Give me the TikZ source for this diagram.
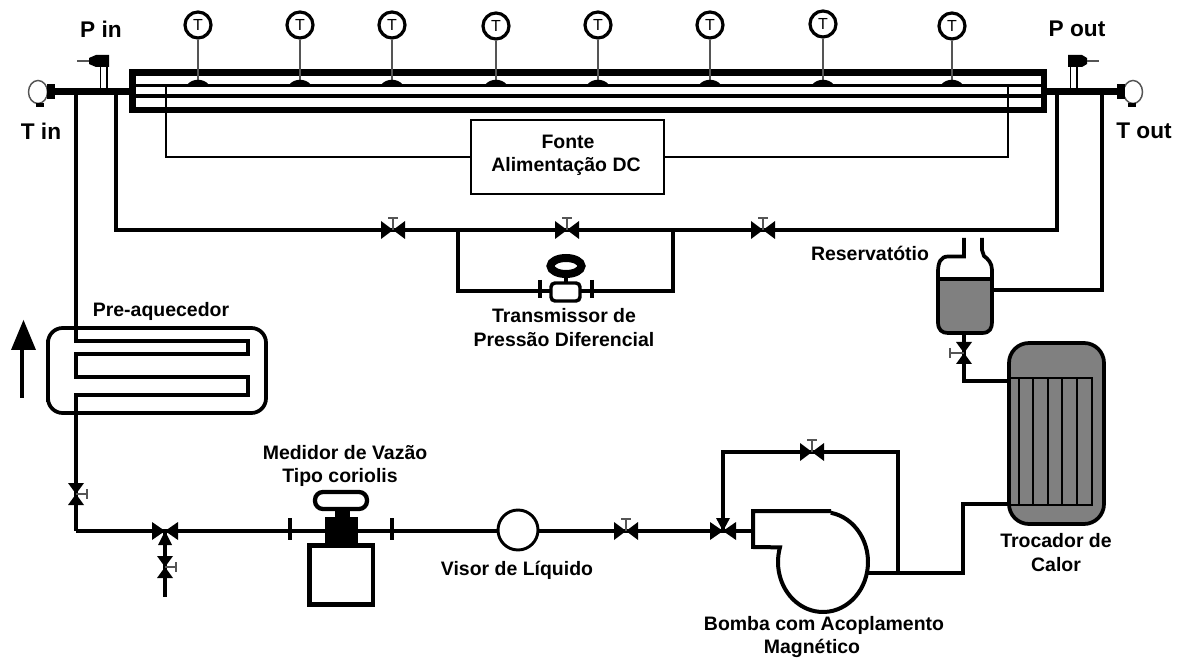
\documentclass[tikz,border=0pt]{standalone}
\usepackage{fontspec}
\setmainfont{Liberation Sans}
\usetikzlibrary{arrows.meta,positioning,calc}
\definecolor{fillgray}{HTML}{808080}
\definecolor{stemgray}{HTML}{555555}
\tikzset{
  hvalve/.pic={
    \fill (-12,-9) -- (0,0) -- (-12,9) -- cycle;
    \fill (12,-9) -- (0,0) -- (12,9) -- cycle;
    \draw[stem] (0,0) -- (0,-12) (-5,-12) -- (5,-12);
  },
  vvalve/.pic={
    \fill (-8,-11) -- (0,0) -- (8,-11) -- cycle;
    \fill (-8,11) -- (0,0) -- (8,11) -- cycle;
    \draw[stem] (0,0) -- (11,0) (11,-5) -- (11,5);
  },
  vvalvel/.pic={
    \fill (-8,-11) -- (0,0) -- (8,-11) -- cycle;
    \fill (-8,11) -- (0,0) -- (8,11) -- cycle;
    \draw[stem] (0,0) -- (-14,0) (-14,-5) -- (-14,5);
  },
}
\begin{document}
\begin{tikzpicture}[
    x=0.75pt,
    y=-0.75pt,
    pipe/.style={line width=3pt},
    thickpipe/.style={line width=5pt},
    wall/.style={line width=5pt},
    vessel/.style={line width=2.8pt, rounded corners=11pt},
    wire/.style={line width=1.1pt},
    stem/.style={line width=0.9pt, stemgray},
    sensor/.style={circle, draw, line width=2.4pt, minimum size=19.5pt, inner sep=0pt, fill=white, font=\fontsize{12}{12}\selectfont},
    label/.style={font=\fontsize{14.6}{14.6}\selectfont\bfseries, inner sep=0pt, text=black},
    biglabel/.style={font=\fontsize{17}{17}\selectfont\bfseries, inner sep=0pt, text=black}
]
\useasboundingbox (0,0) rectangle (1186,659);
\fill[white] (0,0) rectangle (1186,659);

% Test section
\draw[wall] (132.5,72.5) rectangle (1044,110);
\draw[line width=2.4pt] (132,85.5) -- (1044,85.5);
\draw[line width=2.4pt] (132,96) -- (1044,96);
\foreach \x in {132,1008} {
  \fill (\x,84) rectangle (\x+34,87.5);
  \fill (\x,94.5) rectangle (\x+34,98);
}

% Thermocouples
\foreach \i/\x/\y in {1/198/25,2/300/25,3/392/25,4/496/26,5/598/25,6/710/25,7/823/24,8/952/26} {
  \node[sensor] (T\i) at (\x,\y) {T};
  \coordinate (D\i) at (\x,80);
  \draw[stem, line width=1.1pt] (T\i) -- (D\i);
  \fill (\x-11,85) .. controls (\x-6,78) and (\x+6,78) .. (\x+11,85) -- cycle;
}

% Power supply
\node[draw, wire, minimum width=144.75pt, minimum height=55.5pt, inner sep=0pt] (fonte) at (567.5,157) {};
\node[label] (fontetxt) at (568,142) {Fonte};
\node[label] (alimtxt) at (566,166) {Alimentação DC};
\coordinate (wireL) at (166,86);
\coordinate (wireR) at (1008,86);
\draw[wire] (wireL) |- (fonte.west);
\draw[wire] (wireR) |- (fonte.east);

% Inlet and outlet
\coordinate (inL) at (55,91.5);
\coordinate (inR) at (132,91.5);
\coordinate (outL) at (1044,91.5);
\coordinate (outR) at (1117,91.5);
\draw[thickpipe] (inL) -- (inR);
\draw[thickpipe] (outL) -- (outR);
\draw[line width=1.1pt, stemgray] (38,92) ellipse (9.5 and 11.5);
\fill (47,84) rectangle (55,99);
\fill (36,103) rectangle (44,107);
\draw[line width=1.1pt, stemgray] (1133,92) ellipse (9.5 and 11.5);
\fill (1117,84) rectangle (1125,99);
\fill (1128,103) rectangle (1136,107);

% Pressure taps
\fill (89,58) -- (96,55) -- (109,55) -- (109,67) -- (96,67) -- (89,64) -- cycle;
\draw[stem] (77,61) -- (89,61);
\draw[line width=1pt] (100.5,67) -- (100.5,88) (107,67) -- (107,88);
\fill (1068,55) -- (1082,55) -- (1087,58) -- (1087,64) -- (1082,67) -- (1068,67) -- cycle;
\draw[stem] (1087,61) -- (1099,61);
\draw[line width=1pt] (1070.5,67) -- (1070.5,88) (1077,67) -- (1077,88);

% Bypass line
\coordinate (byL) at (116,230);
\coordinate (byR) at (1057,230);
\coordinate (V1) at (393,230);
\coordinate (V2) at (567,230);
\coordinate (V3) at (763,230);
\draw[pipe] (116,92) -- (byL) -- (byR) -- (1057,92);
\foreach \v in {V1,V2,V3} \pic at (\v) {hvalve};

% Differential transmitter
\coordinate (dpL) at (458,230);
\coordinate (dpR) at (673,230);
\draw[pipe] (dpL) |- (540,291) (592,291) -| (dpR);
\draw[pipe] (540,280) -- (540,298) (592,280) -- (592,298);
\draw[pipe] (540,291) -- (592,291);
\draw[line width=2.6pt, rounded corners=3pt, fill=white] (551,283) rectangle (580,301);
\draw[line width=2.8pt] (566,276) -- (566,283);
\draw[line width=6pt, fill=white] (566,266) ellipse (15.5 and 8);
\node[label] (dptxt1) at (564,316) {Transmissor de};
\node[label] (dptxt2) at (564,340) {Pressão Diferencial};

% Reservoir
\fill[fillgray] (938,279) -- (992,279) -- (992,322) .. controls (992,328) and (990,333) .. (982,333) -- (948,333) .. controls (942,333) and (938,330) .. (938,322) -- cycle;
\draw[line width=2.8pt] (964,238) -- (964,256.5) -- (948,256.5) .. controls (941,256.5) and (938,262) .. (938,272) -- (938,322) .. controls (938,330) and (942,333) .. (948,333) -- (982,333) .. controls (990,333) and (992,328) .. (992,322) -- (992,270) .. controls (992,263) and (988,259) .. (984,256) -- (982,250) -- (982,238);
\draw[line width=2.4pt] (938,279) -- (992,279);
\node[label] (restxt) at (870,253) {Reservatótio};
\coordinate (resB) at (964,333);
\coordinate (resJ) at (992,290);
\coordinate (V4) at (964,353);
\draw[pipe] (1102,92) |- (resJ);
\draw[pipe] (resB) -- (964,381) -- (1009,381);
\pic at (V4) {vvalvel};

% Heat exchanger
\draw[vessel, rounded corners=15pt, fill=fillgray] (1009,343) rectangle (1104,524);
\draw[line width=0.9pt] (1009,378) rectangle (1092,505);
\foreach \x in {1019,1033,1048,1062,1077} \draw[line width=0.9pt] (\x,378) -- (\x,505);
\node[label] (trocatxt1) at (1056,541) {Trocador de};
\node[label] (trocatxt2) at (1056,565) {Calor};

% Pump
\draw[line width=3pt] (823,562)++(-80:45 and 50) arc (-80:197:45 and 50) -- (753,547) -- (753,511) -- (831,511);
\coordinate (pumpIn) at (753,531);
\coordinate (pumpOut) at (868,573);
\coordinate (V5) at (812,452);
\coordinate (V6) at (626,531);
\coordinate (V7) at (723,531);
\draw[pipe] (pumpOut) -- (963,573) -- (963,504) -- (1009,504);
\draw[pipe] (898,573) -- (898,452) -- (723,452) -- (V7);
\pic at (V5) {hvalve};
\node[label] (pumptxt1) at (824,625) {Bomba com Acoplamento};
\node[label] (pumptxt2) at (812,648) {Magnético};

% Preheater
\draw[line width=3pt] (76,92) -- (76,341) -- (248,341) -- (248,354) -- (76,354) -- (76,377) -- (248,377) -- (248,395) -- (76,395) -- (76,531);
\draw[vessel, rounded corners=11pt] (48,328) rectangle (266,413);
\draw[line width=2pt] (47.5,340) -- (47.5,402);
\node[label] (pretxt) at (161,311) {Pre-aquecedor};
\draw[line width=2.6pt] (22,398) -- (22,350);
\fill (11,350) -- (23.5,320) -- (36,350) -- cycle;

% Main line
\coordinate (lineL) at (76,531);
\coordinate (V8) at (76,494);
\coordinate (V9) at (165,531);
\coordinate (V10) at (165,567);
\coordinate (drain) at (165,597);
\coordinate (fmL) at (290,531);
\coordinate (fmR) at (392,531);
\draw[pipe] (lineL) -- (fmL) -- (fmR) -- (pumpIn);
\draw[pipe] (V9) -- (drain);
\pic at (V8) {vvalve};
\pic at (V10) {vvalve};
\pic at (V6) {hvalve};

% Three way valves
\foreach \v in {V9,V7} {
  \fill ($(\v)+(-13,-9)$) -- (\v) -- ($(\v)+(-13,9)$) -- cycle;
  \fill ($(\v)+(13,-9)$) -- (\v) -- ($(\v)+(13,9)$) -- cycle;
}
\fill ($(V9)+(-7,14)$) -- (V9) -- ($(V9)+(7,14)$) -- cycle;
\fill ($(V7)+(-7,-13)$) -- (V7) -- ($(V7)+(7,-13)$) -- cycle;

% Coriolis meter
\draw[pipe] (290,518) -- (290,540) (392,518) -- (392,540);
\fill (325,517) rectangle (358,543);
\fill (335,510) rectangle (350,517);
\draw[line width=3.6pt] (309.5,545.5) rectangle (373,604.5);
\draw[line width=3.2pt, rounded corners=6pt, fill=white] (315,492) rectangle (367,509);
\node[label] (fmtxt1) at (345,453) {Medidor de Vazão};
\node[label] (fmtxt2) at (340,477) {Tipo coriolis};

% Sight glass
\node[circle, draw, line width=2.2pt, minimum size=30pt, inner sep=0pt, fill=white] (visor) at (518,530) {};
\node[label] (visortxt) at (517,570) {Visor de Líquido};

% Labels
\node[biglabel] (pintxt) at (101,29) {P in};
\node[biglabel] (tintxt) at (41,131) {T in};
\node[biglabel] (pouttxt) at (1077,29) {P out};
\node[biglabel] (touttxt) at (1144,131) {T out};
\end{tikzpicture}
\end{document}
